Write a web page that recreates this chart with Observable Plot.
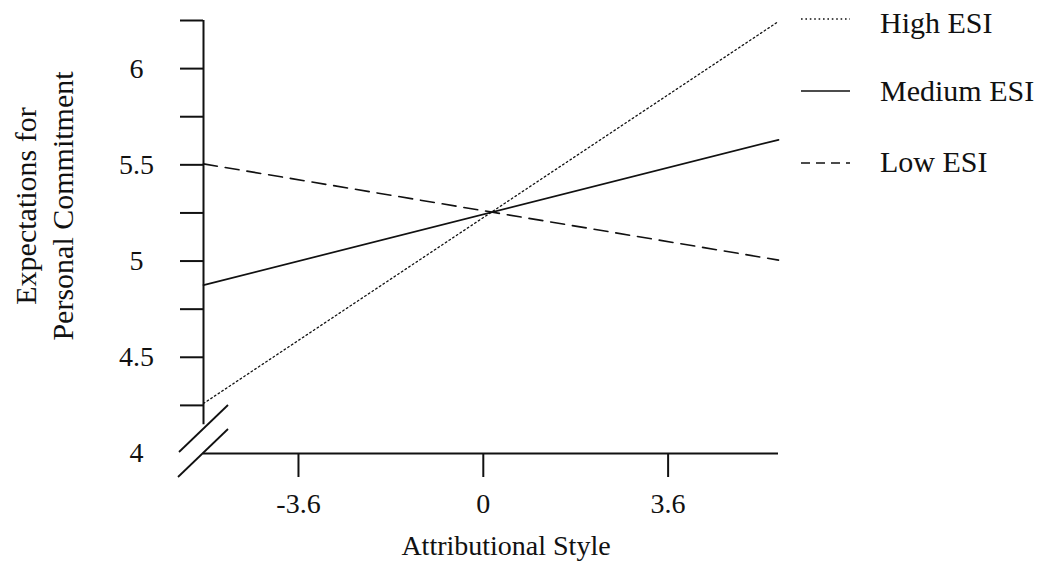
<!DOCTYPE html>
<html>
<head>
<meta charset="utf-8">
<script src="https://cdn.jsdelivr.net/npm/d3@7"></script>
<script src="https://cdn.jsdelivr.net/npm/@observablehq/plot@0.6"></script>
<style>
  html, body { margin: 0; padding: 0; background: #fff; }
  #chart { position: relative; width: 1039px; height: 569px; }
</style>
</head>
<body>
<div id="chart"></div>
<script>
// ---- data ----
const seriesNames = ["High ESI", "Medium ESI", "Low ESI"];
const xEnds = [-5.45, 5.75];          // attributional style at the two line ends
const highESI = [4.26, 6.245];
const mediumESI = [4.875, 5.63];
const lowESI = [5.505, 5.005];
const xTicks = [-3.6, 0, 3.6];
const yTickLabels = [4, 4.5, 5, 5.5, 6];
const yTickMarks = [4.25, 4.5, 4.75, 5, 5.25, 5.5, 5.75, 6, 6.25];
const yDomain = [4, 6.25];
const yAxisBreak = 4.15;               // where the vertical axis stops (break)
const xTitle = "Attributional Style";
const yTitle = "Expectations for\nPersonal Commitment";

const seriesValues = [highESI, mediumESI, lowESI];
const rows = seriesNames.flatMap((s, i) => xEnds.map((x, j) => ({series: s, x, y: seriesValues[i][j]})));

const dashes = {"High ESI": "1.6,2.8", "Medium ESI": null, "Low ESI": "14,8"};
const widths = {"High ESI": 1.3, "Medium ESI": 1.7, "Low ESI": 1.6};

const font = "Liberation Serif, Times New Roman, serif";

const breakMark = (index, scales) => {
  const x0 = scales.x(xEnds[0]), y0 = scales.y(yDomain[0]);
  const g = d3.create("svg:g").attr("stroke", "#111").attr("stroke-width", 1.8);
  g.append("line").attr("x1", x0 - 24).attr("y1", y0 - 1).attr("x2", x0 + 25).attr("y2", y0 - 48);
  g.append("line").attr("x1", x0 - 25).attr("y1", y0 + 24).attr("x2", x0 + 25).attr("y2", y0 - 24);
  return g.node();
};

const lineMarks = seriesNames.map(s => Plot.line(rows.filter(r => r.series === s), {
  x: "x", y: "y", stroke: "#111", strokeWidth: widths[s], strokeDasharray: dashes[s]
}));

const chart = Plot.plot({
  width: 1039,
  height: 569,
  marginLeft: 203,
  marginRight: 261,
  marginTop: 20,
  marginBottom: 116,
  x: {domain: xEnds, axis: null},
  y: {domain: yDomain, axis: null},
  style: {fontFamily: font, background: "#fff", color: "#111"},
  marks: [
    Plot.ruleY([yDomain[0]], {stroke: "#111", strokeWidth: 2}),
    Plot.ruleX([xEnds[0]], {y1: yAxisBreak, y2: yDomain[1], stroke: "#111", strokeWidth: 2}),
    Plot.axisY(yTickMarks, {tickSize: 23, fill: "none", label: null, strokeWidth: 2, stroke: "#111"}),
    Plot.text(yTickLabels, {y: d => d, frameAnchor: "left", dx: -67, text: d => String(d), fontSize: 28, textAnchor: "middle", fill: "#111"}),
    Plot.axisX(xTicks, {tickSize: 24, tickPadding: 16, fontSize: 28, label: null, strokeWidth: 2, stroke: "#111", tickFormat: d => String(d)}),
    Plot.text([xTitle], {frameAnchor: "bottom", dy: 101, dx: 15, fontSize: 28, fill: "#111"}),
    Plot.text([yTitle], {frameAnchor: "left", dx: -161, dy: -31, rotate: -90, textAnchor: "middle", fontSize: 30, lineHeight: 1.25, fill: "#111"}),
    breakMark,
    ...lineMarks
  ]
});

// legend (right side)
const svg = d3.select(chart);
const legendY = [19, 91, 163];
const legendTextY = [33, 101, 172];
const lg = svg.append("g").attr("font-family", font).attr("font-size", 30).attr("fill", "#111").attr("text-anchor", "start");
seriesNames.forEach((s, i) => {
  lg.append("line").attr("x1", 801).attr("x2", 850).attr("y1", legendY[i]).attr("y2", legendY[i])
    .attr("stroke", "#111").attr("stroke-width", widths[s])
    .attr("stroke-dasharray", s === "Low ESI" ? "9,6" : dashes[s]);
  lg.append("text").attr("x", 880).attr("y", legendTextY[i]).attr("text-anchor", "start").text(s);
});

document.getElementById("chart").appendChild(chart);
</script>
</body>
</html>
